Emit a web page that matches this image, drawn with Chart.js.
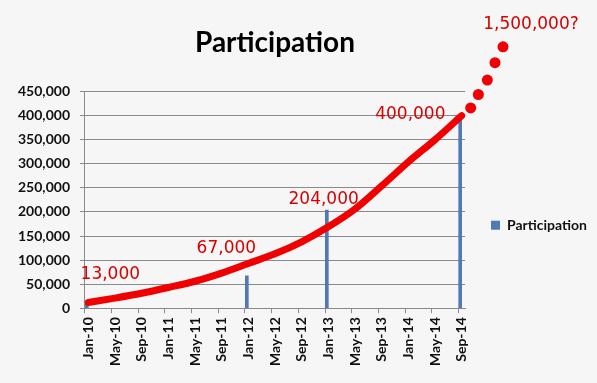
<!DOCTYPE html>
<html>
<head>
<meta charset="utf-8">
<script src="https://cdn.jsdelivr.net/npm/chart.js@4"></script>
<style>
  html, body { margin: 0; padding: 0; background: #f6f6f6; }
  canvas { display: block; }
</style>
</head>
<body>
<canvas id="participationChart" width="597" height="383"></canvas>
<script>
// Meses del eje (Jan-10 .. Sep-14)
const monthNames = ['Jan','Feb','Mar','Apr','May','Jun','Jul','Aug','Sep','Oct','Nov','Dec'];
const categories = [];
for (let y = 10; y <= 14; y++) {
    for (let m = 0; m < 12; m++) {
        if (y === 14 && m > 8) break;
        categories.push(monthNames[m] + '-' + y);
    }
}
const tickLabels = ['Jan-10','May-10','Sep-10','Jan-11','May-11','Sep-11','Jan-12','May-12',
    'Sep-12','Jan-13','May-13','Sep-13','Jan-14','May-14','Sep-14'];

// Barras de participación
const barMonths = ['Jan-10', 'Jan-12', 'Jan-13', 'Sep-14'];
const barValues = [13000, 67000, 204000, 400000];

// Curva roja (meses desde Jan-10)
const curveMonths = [0, 4, 8, 12, 16, 20, 24, 28, 32, 36, 40, 44, 48, 52, 56];
const curveValues = [12000, 21000, 31000, 43000, 56000, 73000, 93000, 113000, 138000, 169000, 206000, 254000, 304000, 350000, 400000];

// Puntos rojos de la proyección
const dotMonths = [57.35, 58.5, 59.85, 61.0, 62.2];
const dotValues = [416000, 444000, 474000, 510000, 543000];

// Textos rojos
const noteTexts = ['13,000', '67,000', '204,000', '400,000', '1,500,000?'];

const red = '#f00000';
const textRed = '#d80000';
const gridGray = '#8a8a8a';

Chart.defaults.font.family = 'Lato';
Chart.defaults.color = '#111';

// Puntos y etiquetas rojas fuera del área, a través de las escalas
const notePlugin = {
    id: 'notes',
    afterDatasetsDraw(chart) {
        const xs = chart.scales.xc, ys = chart.scales.y, ctx = chart.ctx;
        ctx.save();
        ctx.fillStyle = red;
        dotMonths.forEach((m, i) => {
            ctx.beginPath();
            ctx.arc(xs.getPixelForValue(m), ys.getPixelForValue(dotValues[i]), 5.5, 0, Math.PI * 2);
            ctx.fill();
        });
        const anchors = [[3.3, 70800], [20.7, 123000], [35.3, 225000], [48.3, 402000], [66.4, 590000]];
        ctx.font = '17px "DejaVu Sans"';
        ctx.fillStyle = textRed;
        ctx.textAlign = 'center';
        ctx.textBaseline = 'middle';
        noteTexts.forEach((t, i) => {
            ctx.fillText(t, xs.getPixelForValue(anchors[i][0]), ys.getPixelForValue(anchors[i][1]));
        });
        ctx.restore();
    }
};

const ctx = document.getElementById('participationChart').getContext('2d');
const chart = new Chart(ctx, {
    data: {
        labels: categories,
        datasets: [{
            type: 'bar',
            label: 'Participation',
            data: barMonths.map((m, i) => ({ x: m, y: barValues[i] })),
            backgroundColor: '#4f7ab5',
            barThickness: 3,
            order: 2
        }, {
            type: 'line',
            label: 'curve',
            xAxisID: 'xc',
            data: curveMonths.map((m, i) => ({ x: m, y: curveValues[i] })),
            borderColor: red,
            borderWidth: 7,
            borderCapStyle: 'round',
            cubicInterpolationMode: 'monotone',
            pointRadius: 0,
            order: 1
        }]
    },
    options: {
        responsive: false,
        animation: false,
        layout: { padding: { left: 8, bottom: 13 } },
        scales: {
            x: {
                type: 'category',
                offset: true,
                grid: {
                    offset: true,
                    drawOnChartArea: false,
                    tickLength: 5,
                    tickColor: c => tickLabels.includes(categories[c.index]) ? gridGray : 'transparent'
                },
                border: { color: gridGray },
                ticks: {
                    autoSkip: false,
                    maxRotation: 90,
                    minRotation: 90,
                    padding: 4,
                    font: { size: 14, weight: 'bold' },
                    callback: function(v) {
                        const l = this.getLabelForValue(v);
                        return tickLabels.includes(l) ? l : '';
                    }
                }
            },
            xc: {
                type: 'linear',
                display: false,
                bounds: 'data',
                afterDataLimits: s => { s.min = -0.5; s.max = categories.length - 0.5; }
            },
            y: {
                min: 0,
                max: 450000,
                grid: { color: gridGray, tickLength: 5 },
                border: { color: gridGray },
                ticks: {
                    stepSize: 50000,
                    padding: 10,
                    font: { size: 14, weight: 'bold' },
                    callback: v => v.toLocaleString('en-US')
                }
            }
        },
        plugins: {
            title: {
                display: true,
                text: 'Participation',
                color: '#000',
                fullSize: false,
                font: { size: 28, weight: 'bold' },
                padding: { top: 26, bottom: 32 }
            },
            legend: {
                position: 'right',
                title: { display: true, text: '', padding: { top: 66, bottom: 0 } },
                labels: {
                    boxWidth: 9,
                    boxHeight: 9,
                    padding: 26,
                    font: { size: 14, weight: 'bold' },
                    filter: item => item.text === 'Participation'
                }
            },
            tooltip: { enabled: false }
        }
    },
    plugins: [notePlugin]
});
</script>
</body>
</html>
